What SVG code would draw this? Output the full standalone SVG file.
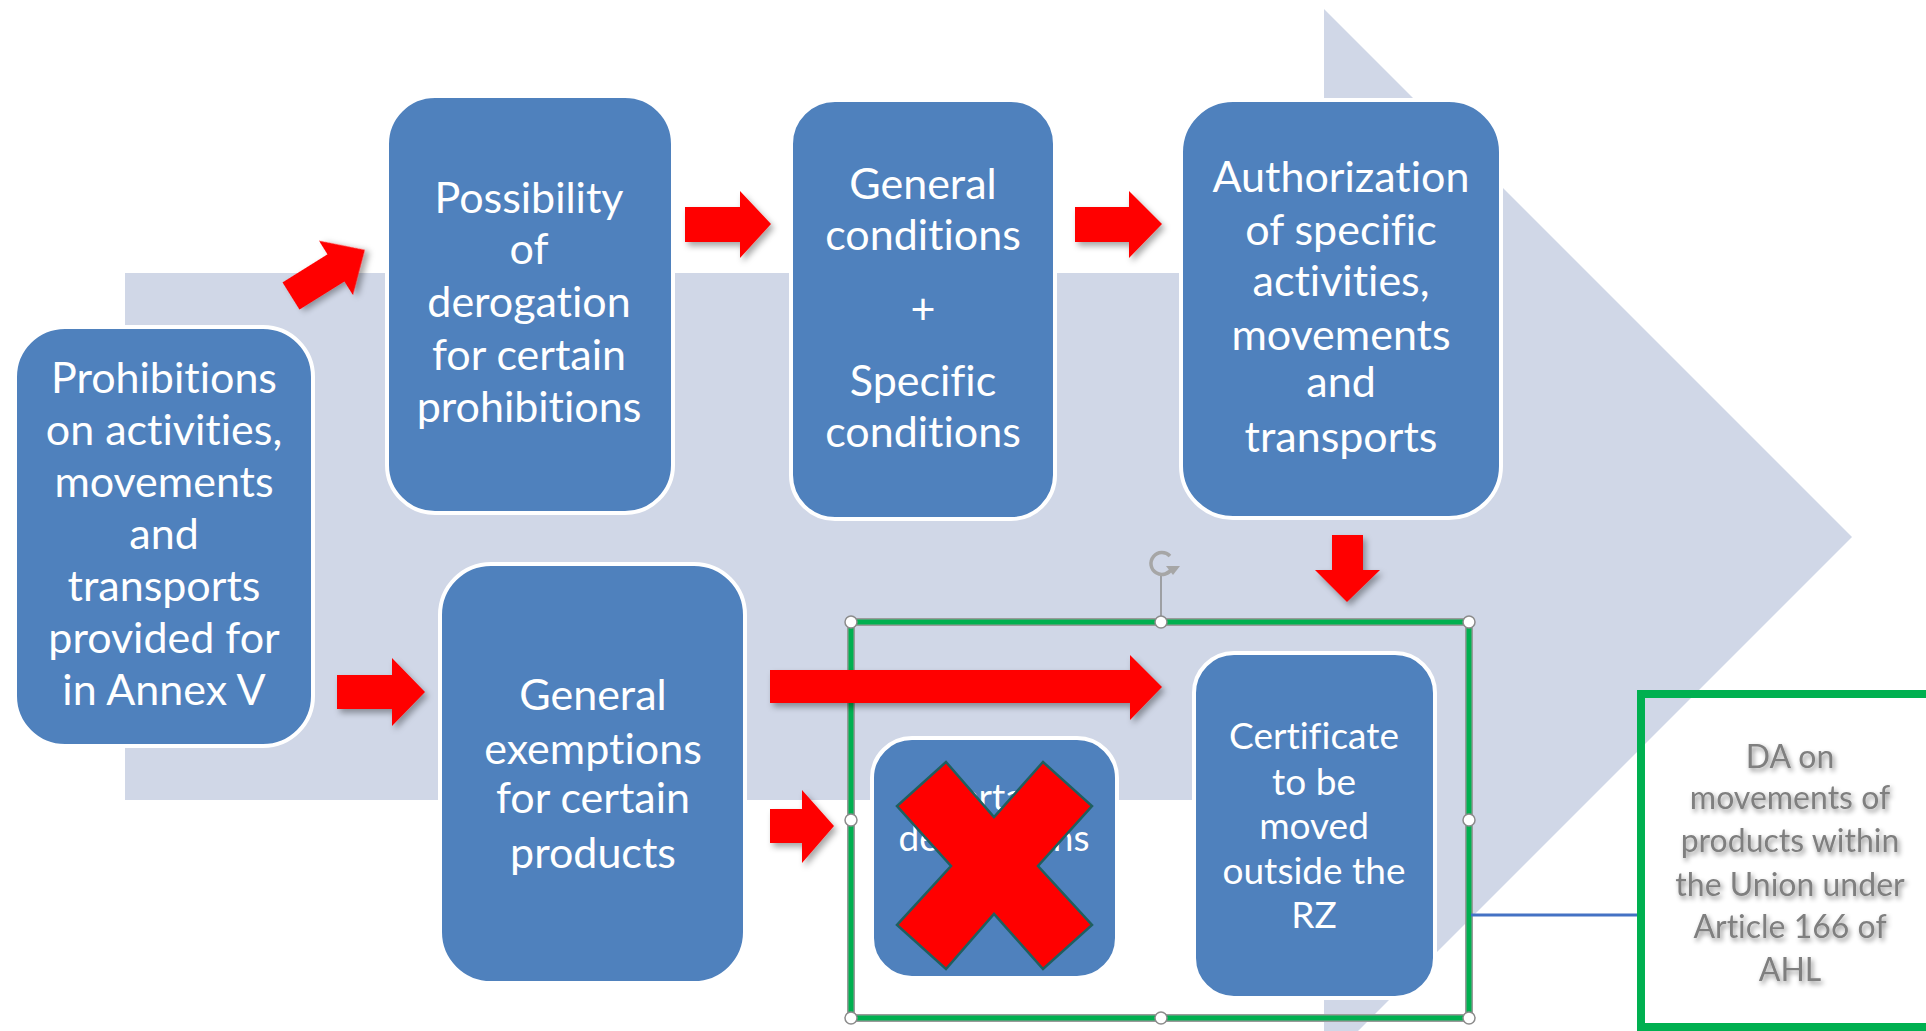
<svg xmlns="http://www.w3.org/2000/svg" width="1926" height="1031" viewBox="0 0 1926 1031">
<defs>
<filter id="sh" x="-20%" y="-20%" width="150%" height="150%">
<feDropShadow dx="3" dy="4" stdDeviation="3" flood-color="#000" flood-opacity="0.35"/>
</filter>
<filter id="tsh" x="-10%" y="-30%" width="130%" height="170%">
<feDropShadow dx="2" dy="3" stdDeviation="2.5" flood-color="#000" flood-opacity="0.45"/>
</filter>
<style>
.node{fill:#4F81BD;stroke:#FFFFFF;stroke-width:4}
.nt{font-family:Lato,"Liberation Sans",sans-serif;fill:#FFFFFF;text-anchor:middle;font-variant-ligatures:none;font-feature-settings:"liga" 0}
.big{font-size:43px}
.small{font-size:37px}
.red{fill:#FF0000;filter:url(#sh)}
.sel{fill:none;stroke:#00B050;stroke-width:5}
.selo{fill:none;stroke:#9A9A9A;stroke-width:8}
.hdl{fill:#FFFFFF;stroke:#8C8C8C;stroke-width:1.5}
.da{font-family:Lato,"Liberation Sans",sans-serif;fill:#7F7F7F;text-anchor:middle;font-size:32px;filter:url(#tsh);font-variant-ligatures:none;font-feature-settings:"liga" 0}
</style>
</defs>
<rect width="1926" height="1031" fill="#FFFFFF"/>
<g id="background-arrow">
<polygon points="125,273 1324,273 1324,9 1852,537 1324,1065 1324,800 125,800" fill="#D0D7E7"/>
</g>
<g id="n-prohibitions">
<rect class="node" x="15" y="327" width="298" height="419" rx="50"/>
<text class="nt big"><tspan x="164" y="393">Prohibitions</tspan><tspan x="164" y="445">on activities,</tspan><tspan x="164" y="497">movements</tspan><tspan x="164" y="549">and</tspan><tspan x="164" y="601">transports</tspan><tspan x="164" y="653">provided for</tspan><tspan x="164" y="705">in Annex V</tspan></text>
</g>
<g id="n-possibility">
<rect class="node" x="387" y="96" width="286" height="417" rx="48"/>
<text class="nt big"><tspan x="529" y="213">Possibility</tspan><tspan x="529" y="264">of</tspan><tspan x="529" y="317">derogation</tspan><tspan x="529" y="370">for certain</tspan><tspan x="529" y="422">prohibitions</tspan></text>
</g>
<g id="n-conditions">
<rect class="node" x="791" y="100" width="264" height="419" rx="44"/>
<text class="nt big"><tspan x="923" y="199">General</tspan><tspan x="923" y="250">conditions</tspan><tspan x="923" y="324">+</tspan><tspan x="923" y="396">Specific</tspan><tspan x="923" y="447">conditions</tspan></text>
</g>
<g id="n-authorization">
<rect class="node" x="1181" y="100" width="320" height="418" rx="52"/>
<text class="nt big"><tspan x="1341" y="192">Authorization</tspan><tspan x="1341" y="245">of specific</tspan><tspan x="1341" y="296">activities,</tspan><tspan x="1341" y="350">movements</tspan><tspan x="1341" y="397">and</tspan><tspan x="1341" y="452">transports</tspan></text>
</g>
<g id="n-exemptions">
<rect class="node" x="440" y="564" width="305" height="419" rx="51"/>
<text class="nt big"><tspan x="593" y="710">General</tspan><tspan x="593" y="764">exemptions</tspan><tspan x="593" y="813">for certain</tspan><tspan x="593" y="868">products</tspan></text>
</g>
<g id="n-derogations">
<rect class="node" x="872" y="738" width="245" height="240" rx="40"/>
<text class="nt small"><tspan x="994" y="810">Certain</tspan><tspan x="994" y="851">derogations</tspan></text>
<polygon points="946,762 994,817 1043,762 1092,806 1038,866 1092,925 1043,969 994,914 946,969 897,925 951,866 897,806" fill="#FF0000" stroke="#1F5F5F" stroke-width="2.5" stroke-linejoin="miter"/>
</g>
<g id="n-certificate">
<rect class="node" x="1194" y="653" width="241" height="345" rx="40"/>
<text class="nt small"><tspan x="1314" y="749">Certificate</tspan><tspan x="1314" y="795">to be</tspan><tspan x="1314" y="839">moved</tspan><tspan x="1314" y="884">outside the</tspan><tspan x="1314" y="928">RZ</tspan></text>
</g>
<g id="selection-frame">
<rect class="selo" x="851" y="622" width="618" height="396"/>
<rect class="sel" x="851" y="622" width="618" height="396"/>
<line x1="1161" y1="576" x2="1161" y2="616" stroke="#8C8C8C" stroke-width="1.5"/>
<path d="M1170,556 A11,11 0 1 0 1172,568" fill="none" stroke="#A6A6A6" stroke-width="3.5"/>
<polygon points="1166,566 1180,566 1173,575" fill="#A6A6A6"/>
<circle class="hdl" cx="851" cy="622" r="6"/>
<circle class="hdl" cx="1161" cy="622" r="6"/>
<circle class="hdl" cx="1469" cy="622" r="6"/>
<circle class="hdl" cx="851" cy="820" r="6"/>
<circle class="hdl" cx="1469" cy="820" r="6"/>
<circle class="hdl" cx="851" cy="1018" r="6"/>
<circle class="hdl" cx="1161" cy="1018" r="6"/>
<circle class="hdl" cx="1469" cy="1018" r="6"/>
</g>
<g id="n-da">
<rect x="1641" y="694" width="400" height="333" fill="none" stroke="#00B050" stroke-width="8"/>
<text class="da"><tspan x="1790" y="768">DA on</tspan><tspan x="1790" y="809">movements of</tspan><tspan x="1790" y="852">products within</tspan><tspan x="1790" y="896">the Union under</tspan><tspan x="1790" y="938">Article 166 of</tspan><tspan x="1790" y="981">AHL</tspan></text>
</g>
<g id="connectors">
<polygon class="red" transform="translate(291,296) rotate(-32)" points="0,-16 53,-16 53,-32 87,0 53,32 53,16 0,16"/>
<polygon class="red" points="685,207 740,207 740,191 771,224 740,258 740,242 685,242"/>
<polygon class="red" points="1075,207 1129,207 1129,191 1162,224 1129,258 1129,242 1075,242"/>
<polygon class="red" points="1332,535 1363,535 1363,570 1380,570 1347,602 1315,570 1332,570"/>
<polygon class="red" points="337,675 392,675 392,658 425,692 392,726 392,709 337,709"/>
<polygon class="red" points="770,670 1130,670 1130,655 1162,687 1130,720 1130,703 770,703"/>
<polygon class="red" points="770,809 802,809 802,790 834,826 802,863 802,843 770,843"/>
<line x1="1471" y1="915" x2="1637" y2="915" stroke="#4472C4" stroke-width="3"/>
</g>
</svg>
